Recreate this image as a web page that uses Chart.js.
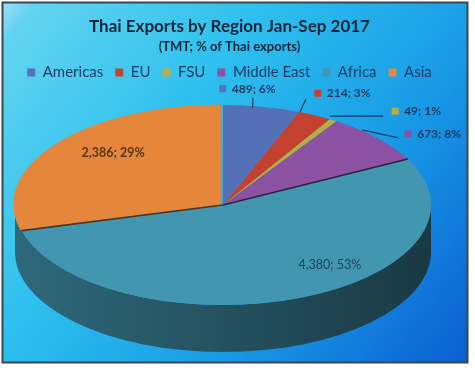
<!DOCTYPE html>
<html>
<head>
<meta charset="utf-8">
<script src="https://cdn.jsdelivr.net/npm/chart.js@4.4.0/dist/chart.umd.min.js"></script>
<style>
  html, body { margin: 0; padding: 0; background: #fff; }
</style>
</head>
<body>
<canvas id="pieChart" width="475" height="370"></canvas>
<script>
// Thai exports by region, Jan-Sep 2017 (thousand metric tonnes)
const regions = ['Americas', 'EU', 'FSU', 'Middle East', 'Africa', 'Asia'];
const tonnes = [489, 214, 49, 673, 4380, 2386];
const shares = [6, 3, 1, 8, 53, 29];

const colours = ['#5470b6', '#c4402f', '#b8ae3c', '#8b51a3', '#4296b0', '#e4863c'];

// where the flattened pie sits on the page
const pie = { cx: 223, cy: 205, rx: 208, ry: 100, depth: 47 };

// label placement relative to the slice's outer edge point (style only)
const labelStyle = [
    { off: [-39, -18], lead: [[-9, 1], [-9, -9]] },
    { off: [3, -22], lead: [[-15, -3], [-9, -16]] },
    { off: [62, -9], lead: [[-3, -4], [50, -4]] },
    { off: [31, -4], lead: [[-15, -8], [21, 0]] },
    { off: [32, -33], inside: true, colour: '#1e3f55', weight: 'normal' },
    { off: [55, 9], inside: true, colour: '#5b3412', weight: 'bold' }
];

Chart.defaults.font.family = 'Lato, "Open Sans", sans-serif';

function shade(hex, f) {
    const n = parseInt(hex.slice(1), 16);
    const r = Math.round(((n >> 16) & 255) * (1 - f));
    const g = Math.round(((n >> 8) & 255) * (1 - f));
    const b = Math.round((n & 255) * (1 - f));
    return 'rgb(' + r + ',' + g + ',' + b + ')';
}

function drawWall(ctx, colour, x, y, R, k, a0, a1) {
    const grad = ctx.createLinearGradient(pie.cx - R, 0, pie.cx + R, 0);
    grad.addColorStop(0, shade(colour, 0.3));
    grad.addColorStop(0.5, shade(colour, 0.46));
    grad.addColorStop(1, shade(colour, 0.62));
    ctx.beginPath();
    ctx.ellipse(x, y, R, R * k, 0, a0, a1);
    ctx.ellipse(x, y + pie.depth, R, R * k, 0, a1, a0, true);
    ctx.closePath();
    ctx.fillStyle = grad;
    ctx.fill();
}

const pie3d = {
    id: 'pie3d',
    beforeDraw(chart) {
        const ctx = chart.ctx;
        ctx.save();
        ctx.fillStyle = '#fff';
        ctx.fillRect(0, 0, chart.width, chart.height);
        const bg = ctx.createLinearGradient(0, 0, chart.width, chart.height);
        bg.addColorStop(0, '#a8def6');
        bg.addColorStop(0.05, '#62d4f0');
        bg.addColorStop(0.35, '#2ec0ee');
        bg.addColorStop(0.65, '#189ce6');
        bg.addColorStop(1, '#0a5bd0');
        ctx.fillStyle = bg;
        ctx.fillRect(2, 2, 466, 361);
        ctx.strokeStyle = '#3a4652';
        ctx.lineWidth = 2;
        ctx.strokeRect(2.5, 2.5, 465, 360);
        ctx.restore();
    },
    beforeDatasetsDraw(chart) {
        const ctx = chart.ctx;
        const arcs = chart.getDatasetMeta(0).data;
        const k = pie.ry / pie.rx;
        const big = tonnes.indexOf(Math.max(...tonnes));

        // the pie's side wall, only the front half shows
        drawWall(ctx, colours[big], pie.cx, pie.cy, arcs[big].outerRadius, k, 0, Math.PI);
        arcs.forEach((arc, i) => {
            if (i === big || arc.options.offset) return;
            const a0 = Math.max(arc.startAngle, 0);
            const a1 = Math.min(arc.endAngle, Math.PI);
            if (a1 <= a0) return;
            drawWall(ctx, colours[i], pie.cx, pie.cy, arc.outerRadius, k, a0, a1);
        });

        // flatten the top face
        ctx.save();
        ctx.translate(pie.cx, pie.cy);
        ctx.scale(1, k);
        ctx.translate(-arcs[0].x, -arcs[0].y);
    },
    afterDatasetsDraw(chart) {
        const ctx = chart.ctx;
        ctx.restore();

        const arcs = chart.getDatasetMeta(0).data;

        // dark edges along the two cuts of the biggest slice
        const big = tonnes.indexOf(Math.max(...tonnes));
        const cuts = [
            [arcs[big].startAngle, colours[big - 1]],
            [arcs[big].endAngle, colours[(big + 1) % colours.length]]
        ];
        cuts.forEach(([a, c]) => {
            ctx.save();
            ctx.strokeStyle = shade(c, 0.62);
            ctx.lineWidth = 1.6;
            ctx.beginPath();
            ctx.moveTo(pie.cx, pie.cy);
            ctx.lineTo(pie.cx + Math.cos(a) * pie.rx, pie.cy + Math.sin(a) * pie.ry);
            ctx.stroke();
            ctx.restore();
        });

        arcs.forEach((arc, i) => {
            const mid = (arc.startAngle + arc.endAngle) / 2;
            const ax = pie.cx + Math.cos(mid) * pie.rx;
            const ay = pie.cy + Math.sin(mid) * pie.ry;
            const st = labelStyle[i];
            const text = tonnes[i].toLocaleString('en-US') + '; ' + shares[i] + '%';
            const lx = ax + st.off[0];
            const ly = ay + st.off[1];
            ctx.save();
            ctx.textBaseline = 'middle';
            if (st.inside) {
                ctx.font = st.weight + ' 12.5px Lato';
                ctx.fillStyle = st.colour;
                ctx.textAlign = 'center';
                ctx.fillText(text, lx, ly);
            } else {
                ctx.strokeStyle = '#1d3a63';
                ctx.lineWidth = 1.2;
                ctx.beginPath();
                ctx.moveTo(ax + st.lead[0][0], ay + st.lead[0][1]);
                ctx.lineTo(ax + st.lead[1][0], ay + st.lead[1][1]);
                ctx.stroke();
                ctx.fillStyle = colours[i];
                ctx.fillRect(lx - 3.5, ly - 3.5, 7, 7);
                ctx.font = 'bold 12px Lato';
                ctx.fillStyle = '#1d3a63';
                ctx.textAlign = 'left';
                ctx.fillText(text, lx + 9, ly);
            }
            ctx.restore();
        });
    }
};

const target = document.getElementById('pieChart').getContext('2d');

const exportChart = new Chart(target, {
    type: 'pie',
    data: {
        labels: regions,
        datasets: [{
            data: tonnes,
            backgroundColor: colours,
            borderWidth: 0,
            offset: [0, 0, 0, 0, 0, 8],
            radius: pie.rx,
            clip: false
        }]
    },
    options: {
        responsive: false,
        animation: false,
        layout: { padding: { left: 4, right: 20 } },
        plugins: {
            title: {
                display: true,
                text: 'Thai Exports by Region Jan-Sep 2017',
                color: '#13253a',
                font: { size: 17, weight: 'bold' },
                padding: { top: 16, bottom: 3 }
            },
            subtitle: {
                display: true,
                text: '(TMT; % of Thai exports)',
                color: '#13253a',
                font: { size: 13, weight: 'bold' },
                padding: { top: 0, bottom: -2 }
            },
            legend: {
                position: 'top',
                labels: {
                    boxWidth: 8,
                    boxHeight: 8,
                    padding: 12,
                    color: '#1d3a63',
                    font: { size: 15 }
                }
            },
            tooltip: { enabled: false }
        }
    },
    plugins: [pie3d]
});
</script>
</body>
</html>
